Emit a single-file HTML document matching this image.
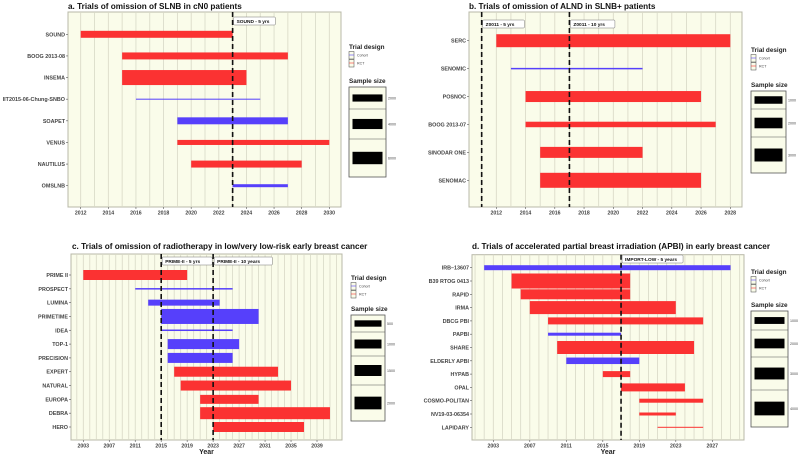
<!DOCTYPE html>
<html><head><meta charset="utf-8"><style>
html,body{margin:0;padding:0;background:#fff;}
svg{display:block;font-family:"Liberation Sans",sans-serif;}
</style></head><body>
<svg id="c" width="800" height="455" viewBox="0 0 800 455" xmlns="http://www.w3.org/2000/svg"></svg>
<script>
// Panel a
const aTrials=["SOUND","BOOG 2013-08","INSEMA","IIT2015-06-Chung-SNBO","SOAPET","VENUS","NAUTILUS","OMSLNB"];
const aStart=[2012,2015,2015,2016,2019,2019,2020,2023];
const aEnd=[2023,2027,2024,2025,2027,2030,2028,2027];
const aSize=[1900,1900,8800,40,1900,1000,1900,350];
const aDesign=["RCT","RCT","RCT","Cohort","Cohort","RCT","RCT","Cohort"];
const aTicks=[2012,2014,2016,2018,2020,2022,2024,2026,2028,2030];
const aLegend=[2000,4000,6000];
const aRefYears=[2023];
const aRefLabels=["SOUND - 5 yrs"];
// Panel b
const bTrials=["SERC","SENOMIC","POSNOC","BOOG 2013-07","SINODAR ONE","SENOMAC"];
const bStart=[2012,2013,2014,2014,2015,2015];
const bEnd=[2028,2022,2026,2027,2022,2026];
const bSize=[3000,40,2150,540,2150,4000];
const bDesign=["RCT","Cohort","RCT","RCT","RCT","RCT"];
const bTicks=[2012,2014,2016,2018,2020,2022,2024,2026,2028];
const bLegend=[1000,2000,3000];
const bRefYears=[2011,2017];
const bRefLabels=["Z0011 - 5 yrs","Z0011 - 10 yrs"];
// Panel c
const cTrials=["PRIME II","PROSPECT","LUMINA","PRIMETIME","IDEA","TOP-1","PRECISION","EXPERT","NATURAL","EUROPA","DEBRA","HERO"];
const cStart=[2003,2011,2013,2015,2015,2016,2016,2017,2018,2021,2021,2023];
const cEnd=[2019,2026,2024,2030,2026,2027,2026,2033,2035,2030,2041,2037];
const cSize=[1240,28,446,2790,28,1240,1240,1240,1240,1000,1785,1240];
const cDesign=["RCT","Cohort","Cohort","Cohort","Cohort","Cohort","Cohort","RCT","RCT","RCT","RCT","RCT"];
const cTicks=[2003,2007,2011,2015,2019,2023,2027,2031,2035,2039];
const cLegend=[500,1000,1500,2000];
const cRefYears=[2015,2023];
const cRefLabels=["PRIME-II - 5 yrs","PRIME-II - 10 years"];
// Panel d
const dTrials=["IRB\u201313607","B39 RTOG 0413","RAPID","IRMA","DBCG PBI","PAPBI","SHARE","ELDERLY APBI","HYPAB","OPAL","COSMO-POLITAN","NV19-03-06354","LAPIDARY"];
const dStart=[2002,2005,2006,2007,2009,2009,2010,2011,2015,2017,2019,2019,2021];
const dEnd=[2029,2018,2018,2023,2026,2017,2025,2019,2018,2024,2026,2023,2026];
const dSize=[530,4780,2120,3590,1040,190,3590,900,760,1360,340,190,21];
const dDesign=["Cohort","RCT","RCT","RCT","RCT","Cohort","RCT","Cohort","RCT","RCT","RCT","RCT","RCT"];
const dTicks=[2003,2007,2011,2015,2019,2023,2027];
const dLegend=[1000,2000,3000,4000];
const dRefYears=[2017];
const dRefLabels=["IMPORT-LOW - 5 years"];

const NS="http://www.w3.org/2000/svg";
const svg=document.getElementById('c');
function mk(tag,attrs,parent,text){const e=document.createElementNS(NS,tag);for(const k in attrs)e.setAttribute(k,attrs[k]);if(text!==undefined)e.textContent=text;(parent||svg).appendChild(e);return e;}
const RED="#fb3232",BLUE="#5640fb";

function panel(p){
  const g=mk('g',{});
  
  
  const xs=y=>p.x0+(y-p.t0)*(p.t1x-p.x0)/(p.t1-p.t0);
  const ys=i=>p.r0+i*(p.r1-p.r0)/(p.trials.length-1);
  const th=n=>Math.max(1,p.k*Math.sqrt(n));
  const t=mk('text',{x:p.titleX,y:p.titleY,'font-size':8.2,'font-weight':'bold',fill:'#111'},g,p.title);
  
  const bg=mk('rect',{x:p.L,y:p.T,width:p.R-p.L,height:p.B-p.T,fill:'#fafcea',stroke:'#b8b8a8','stroke-width':1},g);
  
  for(let yr=Math.ceil(p.t0+(p.L-p.x0)/((p.t1x-p.x0)/(p.t1-p.t0)));;yr++){const x=xs(yr);if(x>=p.R)break;if(x<=p.L)continue;
    const gl=mk('line',{x1:x,x2:x,y1:p.T,y2:p.B,stroke:'#d8d8c6','stroke-width':0.8},g);
    }
  p.ticks.forEach(v=>{const x=xs(v);
    mk('line',{x1:x,x2:x,y1:p.B,y2:p.B+2,stroke:'#555','stroke-width':0.6},g);
    const tl=mk('text',{x:x,y:p.B+7.5,'font-size':5.2,'font-weight':'bold',fill:'#444','text-anchor':'middle'},g,v);
    });
  p.trials.forEach((n,i)=>{const y=ys(i);
    mk('line',{x1:p.L-2,x2:p.L,y1:y,y2:y,stroke:'#555','stroke-width':0.6},g);
    const yl=mk('text',{x:p.L-3,y:y+2,'font-size':5.4,'font-weight':'bold',fill:'#444','text-anchor':'end'},g,n);
    
    const h=th(p.size[i]);
    const b=mk('rect',{x:xs(p.start[i]),y:y-h/2,width:xs(p.end[i])-xs(p.start[i]),height:h,fill:p.design[i]==="RCT"?RED:BLUE},g);
    });
  p.refs.forEach((yr,i)=>{const x=xs(yr);
    const rl=mk('line',{x1:x,x2:x,y1:p.T,y2:p.B,stroke:'#111','stroke-width':1.6,'stroke-dasharray':'5,3'},g);
    
    const lab=p.refLabels[i];const w=lab.length*2.75+6;
    const lb=mk('rect',{x:x+1,y:p.labY,width:w,height:8,fill:'#fff',stroke:'#777','stroke-width':0.5,rx:1},g);
    
    const lt=mk('text',{x:x+4,y:p.labY+5.8,'font-size':4.8,'font-weight':'bold',fill:'#111'},g,lab);
    });
  if(p.xlab){const xl=mk('text',{x:(p.L+p.R)/2,y:454,'font-size':7,'font-weight':'bold',fill:'#222','text-anchor':'middle'},g,'Year');
    }
  // legend
  const lx=p.lx;
  const lt1=mk('text',{x:lx,y:p.tdY,'font-size':6.4,'font-weight':'bold',fill:'#222'},g,'Trial design');
  
  [["Cohort",BLUE],["RCT",RED]].forEach((d,i)=>{const ky=p.tdY+6+i*8;
    const kb=mk('rect',{x:lx,y:ky-3.5,width:5,height:7.5,fill:'#fafcea',stroke:'#444','stroke-width':0.5},g);
    
    mk('line',{x1:lx,x2:lx+5,y1:ky,y2:ky,stroke:d[1],'stroke-width':0.6},g);
    const kt=mk('text',{x:lx+8,y:ky+1.3,'font-size':3.6,fill:'#444'},g,d[0]);
    });
  const lt2=mk('text',{x:lx,y:p.ssT-4,'font-size':6.4,'font-weight':'bold',fill:'#222'},g,'Sample size');
  
  const lw=p.lw;
  const sb=mk('rect',{x:lx,y:p.ssT,width:lw,height:p.ssB-p.ssT,fill:'#fafcea',stroke:'#555','stroke-width':0.8},g);
  
  let prev=p.ssT;
  p.legend.forEach((v,i)=>{const nxt=i<p.div.length?p.div[i]:p.ssB;const cy=(prev+nxt)/2;
    if(i<p.div.length)mk('line',{x1:lx,x2:lx+lw,y1:nxt,y2:nxt,stroke:'#555','stroke-width':0.6},g);
    const h=th(v);
    const kr=mk('rect',{x:lx+3.5,y:cy-h/2,width:lw-7,height:h,fill:'#000'},g);
    
    const kt=mk('text',{x:lx+lw+2,y:cy+1.3,'font-size':3.6,fill:'#444'},g,v);
    
    prev=nxt;});
}
panel({id:'a',title:'a. Trials of omission of SLNB in cN0 patients',titleX:68,titleY:9,L:68,R:341,T:12,B:207,x0:80.7,t0:2012,t1x:329.3,t1:2030,r0:34.3,r1:185.7,k:0.16,
  trials:aTrials,start:aStart,end:aEnd,size:aSize,design:aDesign,ticks:aTicks,refs:aRefYears,refLabels:aRefLabels,labY:17,
  lx:349,tdY:49,lw:37,ssT:87,ssB:177,div:[109,139],legend:aLegend});
panel({id:'b',title:'b. Trials of omission of ALND in SLNB+ patients',titleX:469,titleY:9,L:469,R:742,T:12,B:207,x0:496.3,t0:2012,t1x:730.3,t1:2028,r0:40.7,r1:180.3,k:0.237,
  trials:bTrials,start:bStart,end:bEnd,size:bSize,design:bDesign,ticks:bTicks,refs:bRefYears,refLabels:bRefLabels,labY:20,
  lx:751,tdY:52,lw:35,ssT:91,ssB:173,div:[109,137],legend:bLegend});
panel({id:'c',title:'c. Trials of omission of radiotherapy in low/very low-risk early breast cancer',titleX:72,titleY:249,L:71,R:342,T:254,B:440,x0:83.3,t0:2003,t1x:317,t1:2039,r0:275,r1:427,k:0.284,
  trials:cTrials,start:cStart,end:cEnd,size:cSize,design:cDesign,ticks:cTicks,refs:cRefYears,refLabels:cRefLabels,labY:257,xlab:true,
  lx:351,tdY:280,lw:34,ssT:315,ssB:421,div:[332,356,385],legend:cLegend});
panel({id:'d',title:'d. Trials of accelerated partial breast irradiation (APBI) in early breast cancer',titleX:472,titleY:249,L:472,R:744,T:254.7,B:440,x0:493.3,t0:2003,t1x:712.3,t1:2027,r0:267.7,r1:427.3,k:0.217,
  trials:dTrials,start:dStart,end:dEnd,size:dSize,design:dDesign,ticks:dTicks,refs:dRefYears,refLabels:dRefLabels,labY:255,xlab:true,
  lx:751,tdY:274,lw:37,ssT:311,ssB:427,div:[330,357,390],legend:dLegend});
</script>
</body></html>
